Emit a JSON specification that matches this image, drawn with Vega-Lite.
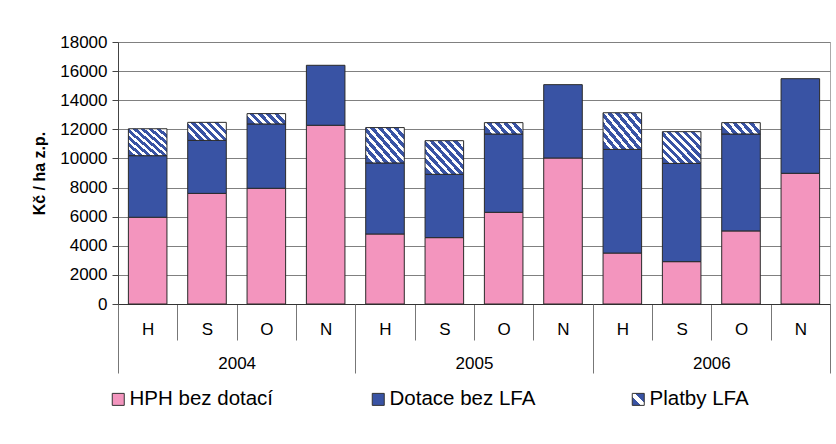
{
  "$schema": "https://vega.github.io/schema/vega-lite/v6.json",
  "autosize": {"type": "none"},
  "width": 712,
  "height": 262,
  "padding": {"left": 118, "top": 42, "right": 6, "bottom": 140},
  "config": {
    "font": "Liberation Sans",
    "view": {"stroke": "#aaaaaa", "strokeWidth": 1}
  },
  "resolve": {"scale": {"x": "independent"}},
  "layer": [
    {
      "data": {
        "values": [
          {"period": "2004-H", "series": "HPH bez dotací", "value": 5960},
          {"period": "2004-H", "series": "Dotace bez LFA", "value": 4230},
          {"period": "2004-H", "series": "Platby LFA", "value": 1850},
          {"period": "2004-S", "series": "HPH bez dotací", "value": 7600},
          {"period": "2004-S", "series": "Dotace bez LFA", "value": 3640},
          {"period": "2004-S", "series": "Platby LFA", "value": 1240},
          {"period": "2004-O", "series": "HPH bez dotací", "value": 7950},
          {"period": "2004-O", "series": "Dotace bez LFA", "value": 4420},
          {"period": "2004-O", "series": "Platby LFA", "value": 710},
          {"period": "2004-N", "series": "HPH bez dotací", "value": 12280},
          {"period": "2004-N", "series": "Dotace bez LFA", "value": 4120},
          {"period": "2005-H", "series": "HPH bez dotací", "value": 4810},
          {"period": "2005-H", "series": "Dotace bez LFA", "value": 4880},
          {"period": "2005-H", "series": "Platby LFA", "value": 2430},
          {"period": "2005-S", "series": "HPH bez dotací", "value": 4560},
          {"period": "2005-S", "series": "Dotace bez LFA", "value": 4350},
          {"period": "2005-S", "series": "Platby LFA", "value": 2310},
          {"period": "2005-O", "series": "HPH bez dotací", "value": 6300},
          {"period": "2005-O", "series": "Dotace bez LFA", "value": 5380},
          {"period": "2005-O", "series": "Platby LFA", "value": 780},
          {"period": "2005-N", "series": "HPH bez dotací", "value": 10030},
          {"period": "2005-N", "series": "Dotace bez LFA", "value": 5040},
          {"period": "2006-H", "series": "HPH bez dotací", "value": 3500},
          {"period": "2006-H", "series": "Dotace bez LFA", "value": 7120},
          {"period": "2006-H", "series": "Platby LFA", "value": 2520},
          {"period": "2006-S", "series": "HPH bez dotací", "value": 2910},
          {"period": "2006-S", "series": "Dotace bez LFA", "value": 6750},
          {"period": "2006-S", "series": "Platby LFA", "value": 2180},
          {"period": "2006-O", "series": "HPH bez dotací", "value": 5020},
          {"period": "2006-O", "series": "Dotace bez LFA", "value": 6660},
          {"period": "2006-O", "series": "Platby LFA", "value": 780},
          {"period": "2006-N", "series": "HPH bez dotací", "value": 8980},
          {"period": "2006-N", "series": "Dotace bez LFA", "value": 6500}
        ]
      },
      "transform": [
        {"window": [{"op": "row_number", "as": "k"}], "groupby": ["period"]}
      ],
      "mark": {"type": "bar", "width": {"band": 0.65}, "stroke": "#2a2a2a", "strokeWidth": 1},
      "encoding": {
        "x": {
          "field": "period", "type": "nominal", "sort": null,
          "scale": {"paddingInner": 0, "paddingOuter": 0},
          "axis": {
            "orient": "bottom",
            "title": null, "labelExpr": "substring(datum.label, 5)",
            "tickBand": "extent", "tickSize": 36, "tickColor": "#777777",
            "domainColor": "#333333", "labelPadding": -11, "labelBaseline": "middle",
            "labelFontSize": 17, "labelAngle": 0, "labelColor": "#000000", "grid": false
          }
        },
        "y": {
          "field": "value", "type": "quantitative", "stack": "zero",
          "scale": {"domain": [0, 18000]},
          "axis": {
            "title": "Kč / ha z.p.",
            "values": [0, 2000, 4000, 6000, 8000, 10000, 12000, 14000, 16000, 18000],
            "format": "d", "labelFontSize": 17, "labelColor": "#000000",
            "tickSize": 6, "labelPadding": 5, "tickColor": "#444444",
            "domainColor": "#444444", "gridColor": "#808080",
            "titleFontSize": 16, "titleFontWeight": "bold", "titleColor": "#000000",
            "titlePadding": 12
          }
        },
        "order": {"field": "k", "type": "quantitative", "sort": "ascending"},
        "color": {
          "condition": [
            {"test": "datum.series === 'Platby LFA' && datum.value >= 1500",
             "value": {"gradient": "linear", "x1": 0, "y1": 0.9, "x2": 1, "y2": 0.1, "stops": [
               {"offset": 0, "color": "#3953A4"}, {"offset": 0.07, "color": "#3953A4"}, {"offset": 0.07, "color": "#ffffff"}, {"offset": 0.125, "color": "#ffffff"},
               {"offset": 0.125, "color": "#3953A4"}, {"offset": 0.195, "color": "#3953A4"}, {"offset": 0.195, "color": "#ffffff"}, {"offset": 0.25, "color": "#ffffff"},
               {"offset": 0.25, "color": "#3953A4"}, {"offset": 0.32, "color": "#3953A4"}, {"offset": 0.32, "color": "#ffffff"}, {"offset": 0.375, "color": "#ffffff"},
               {"offset": 0.375, "color": "#3953A4"}, {"offset": 0.445, "color": "#3953A4"}, {"offset": 0.445, "color": "#ffffff"}, {"offset": 0.5, "color": "#ffffff"},
               {"offset": 0.5, "color": "#3953A4"}, {"offset": 0.57, "color": "#3953A4"}, {"offset": 0.57, "color": "#ffffff"}, {"offset": 0.625, "color": "#ffffff"},
               {"offset": 0.625, "color": "#3953A4"}, {"offset": 0.695, "color": "#3953A4"}, {"offset": 0.695, "color": "#ffffff"}, {"offset": 0.75, "color": "#ffffff"},
               {"offset": 0.75, "color": "#3953A4"}, {"offset": 0.82, "color": "#3953A4"}, {"offset": 0.82, "color": "#ffffff"}, {"offset": 0.875, "color": "#ffffff"},
               {"offset": 0.875, "color": "#3953A4"}, {"offset": 0.945, "color": "#3953A4"}, {"offset": 0.945, "color": "#ffffff"}, {"offset": 1, "color": "#ffffff"}
             ]}},
            {"test": "datum.series === 'Platby LFA' && datum.value >= 1000",
             "value": {"gradient": "linear", "x1": 0, "y1": 0.73, "x2": 1, "y2": 0.27, "stops": [
               {"offset": 0, "color": "#3953A4"}, {"offset": 0.09, "color": "#3953A4"}, {"offset": 0.09, "color": "#ffffff"}, {"offset": 0.1667, "color": "#ffffff"},
               {"offset": 0.1667, "color": "#3953A4"}, {"offset": 0.2567, "color": "#3953A4"}, {"offset": 0.2567, "color": "#ffffff"}, {"offset": 0.3333, "color": "#ffffff"},
               {"offset": 0.3333, "color": "#3953A4"}, {"offset": 0.4233, "color": "#3953A4"}, {"offset": 0.4233, "color": "#ffffff"}, {"offset": 0.5, "color": "#ffffff"},
               {"offset": 0.5, "color": "#3953A4"}, {"offset": 0.59, "color": "#3953A4"}, {"offset": 0.59, "color": "#ffffff"}, {"offset": 0.6667, "color": "#ffffff"},
               {"offset": 0.6667, "color": "#3953A4"}, {"offset": 0.7567, "color": "#3953A4"}, {"offset": 0.7567, "color": "#ffffff"}, {"offset": 0.8333, "color": "#ffffff"},
               {"offset": 0.8333, "color": "#3953A4"}, {"offset": 0.9233, "color": "#3953A4"}, {"offset": 0.9233, "color": "#ffffff"}, {"offset": 1, "color": "#ffffff"}
             ]}},
            {"test": "datum.series === 'Platby LFA'",
             "value": {"gradient": "linear", "x1": 0, "y1": 0.63, "x2": 1, "y2": 0.37, "stops": [
               {"offset": 0, "color": "#3953A4"}, {"offset": 0.11, "color": "#3953A4"}, {"offset": 0.11, "color": "#ffffff"}, {"offset": 0.2, "color": "#ffffff"},
               {"offset": 0.2, "color": "#3953A4"}, {"offset": 0.31, "color": "#3953A4"}, {"offset": 0.31, "color": "#ffffff"}, {"offset": 0.4, "color": "#ffffff"},
               {"offset": 0.4, "color": "#3953A4"}, {"offset": 0.51, "color": "#3953A4"}, {"offset": 0.51, "color": "#ffffff"}, {"offset": 0.6, "color": "#ffffff"},
               {"offset": 0.6, "color": "#3953A4"}, {"offset": 0.71, "color": "#3953A4"}, {"offset": 0.71, "color": "#ffffff"}, {"offset": 0.8, "color": "#ffffff"},
               {"offset": 0.8, "color": "#3953A4"}, {"offset": 0.91, "color": "#3953A4"}, {"offset": 0.91, "color": "#ffffff"}, {"offset": 1, "color": "#ffffff"}
             ]}}
          ],
          "field": "series", "type": "nominal",
          "sort": ["HPH bez dotací", "Dotace bez LFA", "Platby LFA"],
          "scale": {
            "domain": ["HPH bez dotací", "Dotace bez LFA", "Platby LFA"],
            "range": ["#F395BE", "#3953A4", {"expr": "{gradient: 'linear', x1: 0, y1: 1, x2: 1, y2: 0, stops: [{offset: 0, color: '#3953A4'}, {offset: 0.38, color: '#3953A4'}, {offset: 0.38, color: '#ffffff'}, {offset: 0.62, color: '#ffffff'}, {offset: 0.62, color: '#3953A4'}, {offset: 1, color: '#3953A4'}]}"}]
          },
          "legend": {
            "title": null, "orient": "none", "legendX": -10, "legendY": 347,
            "direction": "horizontal", "columns": 3, "gridAlign": "all", "columnPadding": 92,
            "symbolType": "square", "symbolSize": 144, "symbolStrokeColor": "#333333", "symbolStrokeWidth": 1,
            "labelFontSize": 20.5, "labelOffset": 1, "labelColor": "#000000", "labelLimit": 300, "padding": 0
          }
        }
      }
    },
    {
      "data": {"values": [{"year": "2004"}, {"year": "2005"}, {"year": "2006"}]},
      "mark": {"type": "bar", "opacity": 0},
      "encoding": {
        "x": {
          "field": "year", "type": "nominal",
          "scale": {"paddingInner": 0, "paddingOuter": 0},
          "axis": {
            "orient": "bottom",
            "title": null, "tickBand": "extent", "tickSize": 69, "domain": false,
            "tickColor": "#777777", "labelPadding": -10, "labelBaseline": "middle",
            "labelFontSize": 17, "labelAngle": 0, "labelColor": "#000000", "grid": false
          }
        }
      }
    }
  ]
}
